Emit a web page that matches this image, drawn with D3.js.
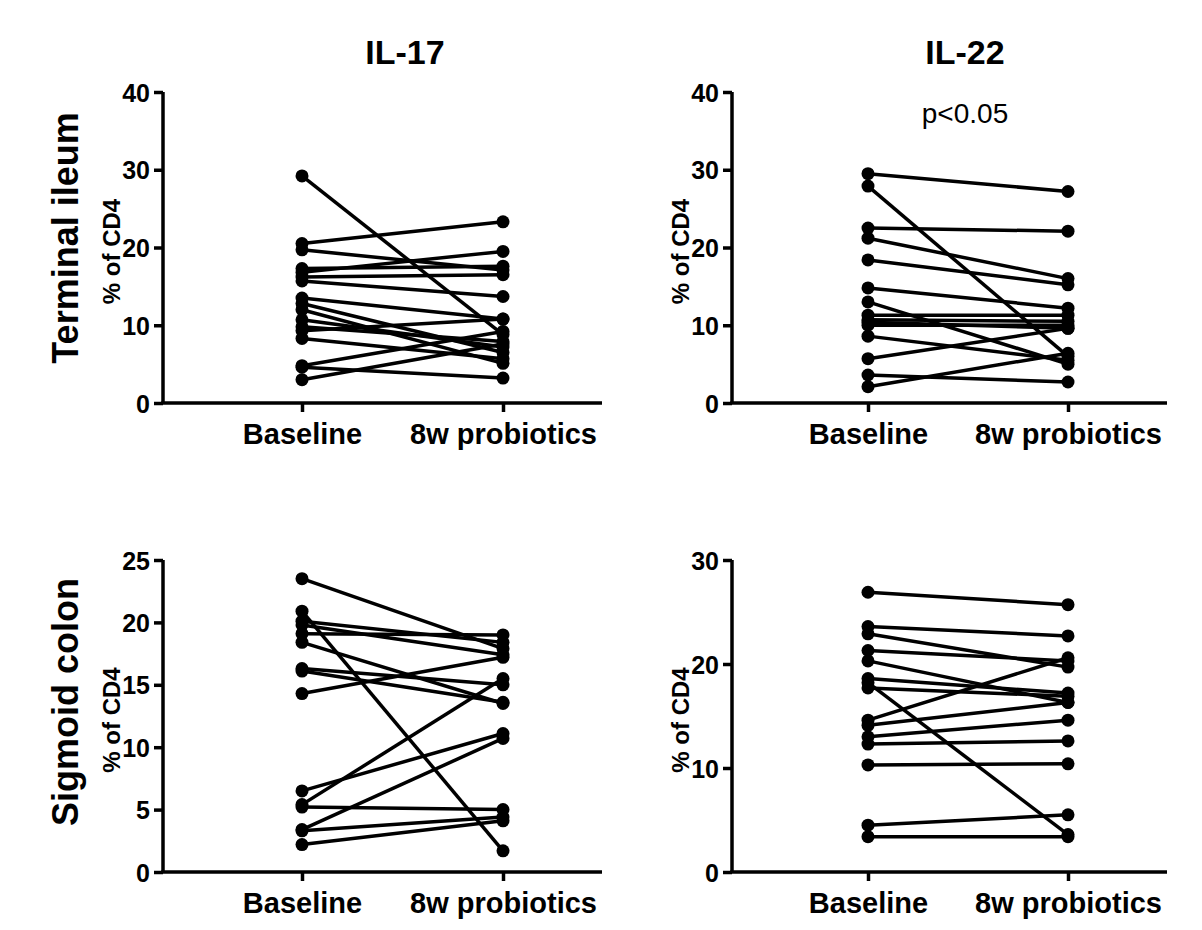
<!DOCTYPE html>
<html>
<head>
<meta charset="utf-8">
<script src="https://cdn.jsdelivr.net/npm/d3@7"></script>
<style>
  html, body { margin: 0; padding: 0; background: #fff; }
  svg { display: block; }
  text { font-family: "Liberation Sans", Arial, Helvetica, sans-serif; fill: #000; }
</style>
</head>
<body>
<svg id="chart" width="1202" height="930"></svg>
<script>
// ---------------- DATA ----------------
const groups = ["Baseline", "8w probiotics"];
const columnTitles = ["IL-17", "IL-22"];
const rowTitles = ["Terminal ileum", "Sigmoid colon"];
const yAxisLabel = "% of CD4";
const pValueLabel = "p<0.05";

// Terminal ileum, IL-17 (paired: baseline -> 8w)
const ileumIL17Baseline = [29.2, 20.5, 19.7, 17.3, 16.8, 15.7, 16.2, 13.5, 12.8, 12.0, 10.7, 9.8, 9.3, 8.3, 4.8, 4.6, 3.0];
const ileumIL17Week8    = [ 8.8, 23.3, 17.1, 17.6, 19.5, 13.7, 16.5, 10.8,  6.5,  5.1,  7.2, 7.9, 10.8, 5.7, 9.2, 3.2, 7.6];

// Terminal ileum, IL-22
const ileumIL22Baseline = [29.5, 27.9, 22.5, 21.2, 18.4, 14.8, 13.0, 11.3, 10.7, 10.0, 10.4, 8.6, 5.7, 3.6, 2.1];
const ileumIL22Week8    = [27.2,  6.0, 22.1, 16.0, 15.2, 12.2,  5.0, 11.3, 10.5, 10.0,  9.6, 5.5, 9.6, 2.7, 6.4];

// Sigmoid colon, IL-17
const colonIL17Baseline = [23.5, 20.9, 20.1, 19.8, 19.1, 18.4, 16.3, 16.1, 14.3,  6.5,  5.4, 5.2,  3.4, 3.3, 2.2];
const colonIL17Week8    = [17.9,  1.7, 18.4, 17.4, 19.0, 13.5, 15.0, 13.6, 17.2, 11.1, 15.5, 5.0, 10.7, 4.4, 4.1];

// Sigmoid colon, IL-22
const colonIL22Baseline = [26.9, 23.6, 22.9, 21.3, 20.3, 18.6, 18.2, 17.7, 14.6, 14.1, 13.0, 12.3, 10.3, 4.5, 3.4];
const colonIL22Week8    = [25.7, 22.7, 19.7, 20.3, 16.3, 17.2,  3.6, 16.9, 20.6, 16.3, 14.6, 12.6, 10.4, 5.5, 3.4];

const ileumTicks = [0, 10, 20, 30, 40];
const colonIL17Ticks = [0, 5, 10, 15, 20, 25];
const colonIL22Ticks = [0, 10, 20, 30];

// ---------------- LAYOUT ----------------
const svg = d3.select("#chart");
const FONT_TICK_Y = 25, FONT_TICK_X = 29;

const panels = [
  { base: ileumIL17Baseline, wk8: ileumIL17Week8, ticks: ileumTicks, axisX: 163, top: 92, bottom: 403, xB: 302, xP: 503, xEnd: 602 },
  { base: ileumIL22Baseline, wk8: ileumIL22Week8, ticks: ileumTicks, axisX: 732, top: 92, bottom: 403, xB: 868, xP: 1068, xEnd: 1167, p: true },
  { base: colonIL17Baseline, wk8: colonIL17Week8, ticks: colonIL17Ticks, axisX: 163, top: 560, bottom: 872, xB: 302, xP: 503, xEnd: 602 },
  { base: colonIL22Baseline, wk8: colonIL22Week8, ticks: colonIL22Ticks, axisX: 732, top: 560, bottom: 872, xB: 868, xP: 1068, xEnd: 1167 }
];

panels.forEach(p => {
  const g = svg.append("g");
  const y = d3.scaleLinear().domain([0, d3.max(p.ticks)]).range([p.bottom, p.top]);
  const x = d3.scalePoint().domain(groups).range([p.xB, p.xP]);

  // y axis
  const ya = g.append("g").attr("transform", `translate(${p.axisX},0)`)
    .call(d3.axisLeft(y).tickValues(p.ticks).tickSize(9).tickPadding(4).tickFormat(d3.format("d")));
  ya.select(".domain").attr("stroke", "#000").attr("stroke-width", 3.5)
    .attr("d", `M0,${p.top}V${p.bottom}`);
  ya.selectAll(".tick line").attr("stroke", "#000").attr("stroke-width", 3.5);
  ya.selectAll(".tick text").style("font-size", FONT_TICK_Y + "px").style("font-weight", "bold")
    .attr("dy", "0.36em").attr("x", -13);

  // x axis
  const xa = g.append("g").attr("transform", `translate(0,${p.bottom})`)
    .call(d3.axisBottom(x).tickSize(9).tickPadding(6));
  xa.select(".domain").remove();
  xa.append("line").attr("x1", p.axisX - 1.75).attr("x2", p.xEnd).attr("y1", 0).attr("y2", 0)
    .attr("stroke", "#000").attr("stroke-width", 3.5);
  xa.selectAll(".tick line").attr("stroke", "#000").attr("stroke-width", 3.5);
  xa.selectAll(".tick text").style("font-size", FONT_TICK_X + "px").style("font-weight", "bold")
    .attr("dy", "0.9em");

  // paired lines
  const pairs = p.base.map((b, i) => [b, p.wk8[i]]);
  g.append("g").selectAll("line").data(pairs).join("line")
    .attr("x1", x(groups[0])).attr("x2", x(groups[1]))
    .attr("y1", d => y(d[0])).attr("y2", d => y(d[1]))
    .attr("stroke", "#000").attr("stroke-width", 3.5);

  // points
  const pts = g.append("g");
  pts.selectAll("circle.b").data(p.base).join("circle").attr("class", "b")
    .attr("cx", x(groups[0])).attr("cy", d => y(d)).attr("r", 6.5).attr("fill", "#000");
  pts.selectAll("circle.w").data(p.wk8).join("circle").attr("class", "w")
    .attr("cx", x(groups[1])).attr("cy", d => y(d)).attr("r", 6.5).attr("fill", "#000");

  // y label
  g.append("text")
    .attr("transform", `translate(${p.axisX - 43},${(p.top + p.bottom) / 2 + 4}) rotate(-90)`)
    .attr("text-anchor", "middle").style("font-size", "24px").style("font-weight", "bold")
    .text(yAxisLabel);

  if (p.p) {
    g.append("text").attr("x", (p.xB + p.xP) / 2 - 3).attr("y", 123)
      .attr("text-anchor", "middle").style("font-size", "28px").text(pValueLabel);
  }
});

// column titles
[[405, columnTitles[0]], [965, columnTitles[1]]].forEach(([cx, t]) => {
  svg.append("text").attr("x", cx).attr("y", 64).attr("text-anchor", "middle")
    .style("font-size", "34px").style("font-weight", "bold").text(t);
});

// row titles
[[238, rowTitles[0]], [702, rowTitles[1]]].forEach(([cy, t]) => {
  svg.append("text").attr("transform", `translate(78,${cy}) rotate(-90)`).attr("text-anchor", "middle")
    .style("font-size", "36px").style("font-weight", "bold").text(t);
});
</script>
</body>
</html>
